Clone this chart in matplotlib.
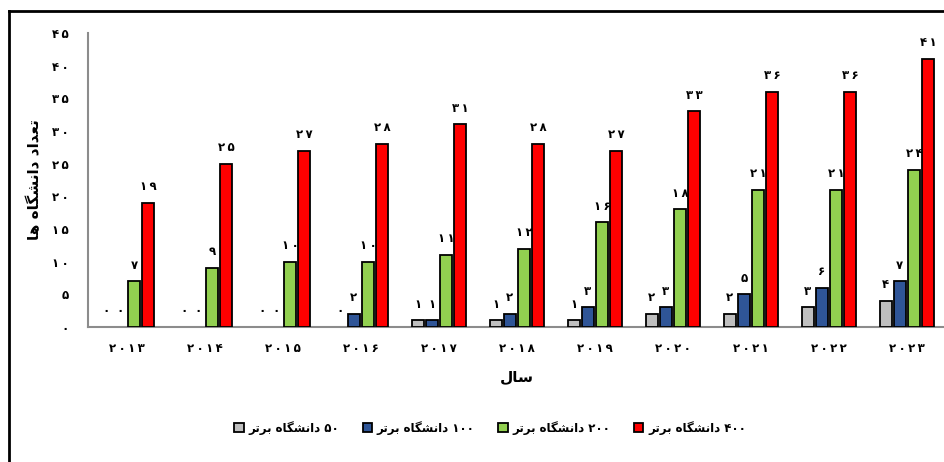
import matplotlib

matplotlib.use('Agg')
import matplotlib.pyplot as plt
import numpy as np
from matplotlib.lines import Line2D

years = [2013, 2014, 2015, 2016, 2017, 2018, 2019, 2020, 2021, 2022, 2023]
top50 = [0, 0, 0, 0, 1, 1, 1, 2, 2, 3, 4]
top100 = [0, 0, 0, 2, 1, 2, 3, 3, 5, 6, 7]
top200 = [7, 9, 10, 10, 11, 12, 16, 18, 21, 21, 24]
top400 = [19, 25, 27, 28, 31, 28, 27, 33, 36, 36, 41]
series_names = ["۵۰ دانشگاه برتر", "۱۰۰ دانشگاه برتر", "۲۰۰ دانشگاه برتر", "۴۰۰ دانشگاه برتر"]
colors = ["#BFBFBF", "#2F5597", "#92D050", "#FF0000"]
y_ticks = [0, 5, 10, 15, 20, 25, 30, 35, 40, 45]

# ---- minimal persian shaping (presentation forms + visual order) ----
FORMS = {
    'ا': ('\uFE8D', '\uFE8E', None, None),
    'د': ('\uFEA9', '\uFEAA', None, None),
    'ر': ('\uFEAD', '\uFEAE', None, None),
    'ب': ('\uFE8F', '\uFE90', '\uFE91', '\uFE92'),
    'ت': ('\uFE95', '\uFE96', '\uFE97', '\uFE98'),
    'س': ('\uFEB1', '\uFEB2', '\uFEB3', '\uFEB4'),
    'ش': ('\uFEB5', '\uFEB6', '\uFEB7', '\uFEB8'),
    'ع': ('\uFEC9', '\uFECA', '\uFECB', '\uFECC'),
    'ل': ('\uFEDD', '\uFEDE', '\uFEDF', '\uFEE0'),
    'ن': ('\uFEE5', '\uFEE6', '\uFEE7', '\uFEE8'),
    'ه': ('\uFEE9', '\uFEEA', '\uFEEB', '\uFEEC'),
    'گ': ('\uFB92', '\uFB93', '\uFB94', '\uFB95'),
}
PDIG = '۰۱۲۳۴۵۶۷۸۹'


def fa(n, sep='\u2009'):
    return sep.join(PDIG[int(c)] for c in str(n))


def shape_word(w):
    if all(c in PDIG for c in w):
        return w
    out = []
    for i, c in enumerate(w):
        f = FORMS[c]
        prev_join = i > 0 and FORMS[w[i - 1]][2] is not None
        next_join = i < len(w) - 1 and f[2] is not None
        if prev_join and next_join:
            g = f[3]
        elif prev_join:
            g = f[1]
        elif next_join:
            g = f[2]
        else:
            g = f[0]
        out.append(g)
    return ''.join(reversed(out))


def rtl(text):
    return ' '.join(shape_word(w) for w in reversed(text.split(' ')))


plt.rcParams['font.family'] = ['DejaVu Sans']
plt.rcParams['font.weight'] = 'bold'

fig = plt.figure(figsize=(9.44, 4.62), dpi=100)
ax = fig.add_axes([88 / 944, 1 - 327 / 462, 858 / 944, 294 / 462])

x = np.arange(len(years))
data = [top50, top100, top200, top400]
w = 0.155
step = 0.183
for k, vals in enumerate(data):
    pos = x + (k - 1.5) * step
    # zero-height bars show no outline
    lws = [1.3 if v > 0 else 0 for v in vals]
    ax.bar(pos, vals, width=w, color=colors[k], edgecolor='black', linewidth=lws,
           label=rtl(series_names[k]), zorder=3)
    for i, v in enumerate(vals):
        ax.annotate(fa(v), (pos[i], v), xytext=(0, 7), textcoords='offset points',
                    ha='center', va='bottom', fontsize=8.5, fontweight='bold')

ax.set_xlim(-0.5, len(years) - 0.5)
ax.set_ylim(0, 45)
ax.set_yticks(y_ticks)
ax.set_yticklabels([fa(t) for t in y_ticks], fontsize=8.5, fontweight='bold')
ax.set_xticks(x)
ax.set_xticklabels([fa(y) for y in years], fontsize=8.5, fontweight='bold')
ax.tick_params(axis='both', length=0)
ax.tick_params(axis='y', pad=14)
ax.tick_params(axis='x', pad=11)
for s in ['top', 'right']:
    ax.spines[s].set_visible(False)
for s in ['left', 'bottom']:
    ax.spines[s].set_color('#8C8C8C')
    ax.spines[s].set_linewidth(1.5)

ax.set_ylabel(rtl("تعداد دانشگاه ها"), fontsize=11, fontweight='bold', labelpad=7)
ax.set_xlabel(rtl("سال"), fontsize=11, fontweight='bold', labelpad=10)

leg = fig.legend(loc='center', bbox_to_anchor=(490 / 944, 1 - 428 / 462), ncol=4, frameon=False,
                 fontsize=8.5, handlelength=0.8, handleheight=0.8, handletextpad=0.4, columnspacing=2.0)
for h in leg.legend_handles:
    h.set_edgecolor('black')
    h.set_linewidth(1.3)

# outer frame (left and top edges visible)
fig.add_artist(Line2D([9 / 944, 9 / 944], [0, 1 - 11 / 462], color='black', lw=2, transform=fig.transFigure))
fig.add_artist(Line2D([9 / 944, 1], [1 - 11 / 462, 1 - 11 / 462], color='black', lw=2, transform=fig.transFigure))

fig.savefig("out.png", dpi=100)
